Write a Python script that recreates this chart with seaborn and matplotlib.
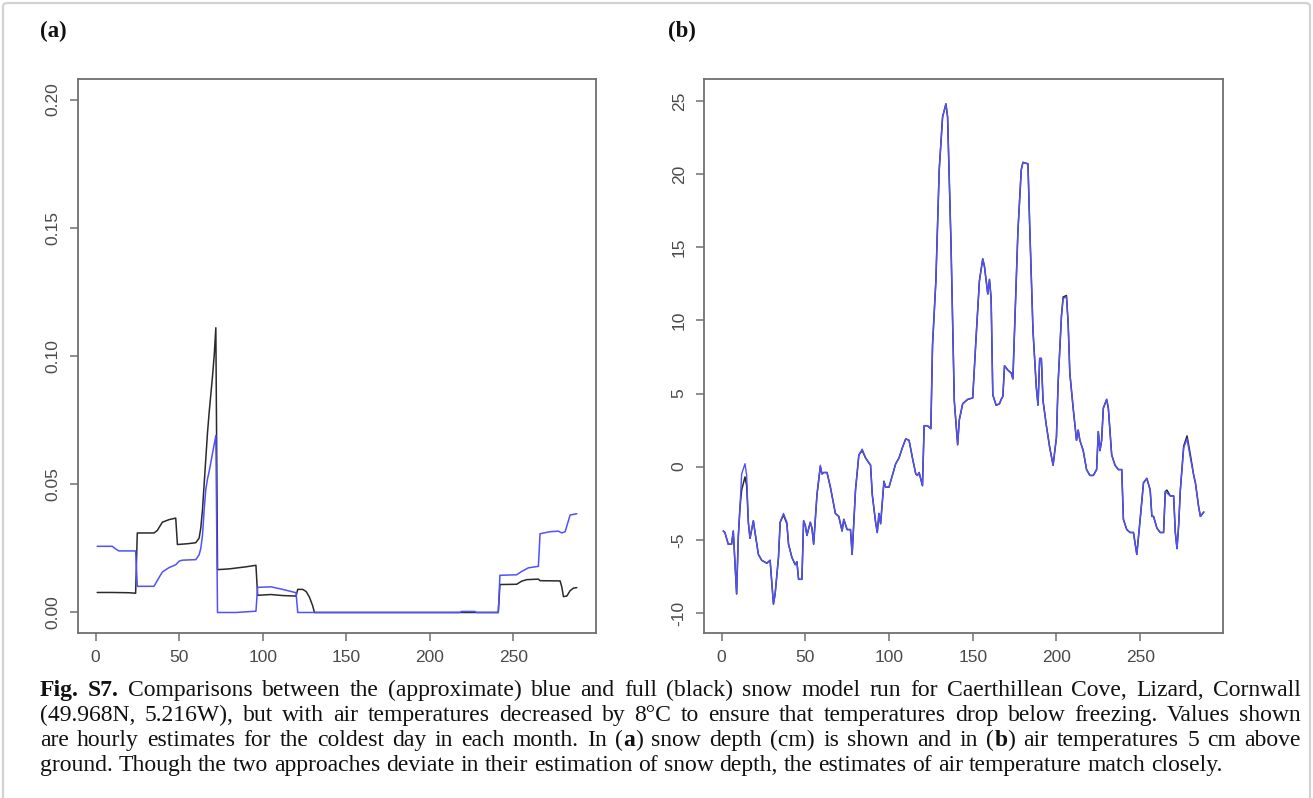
import matplotlib
matplotlib.use("Agg")
import matplotlib.pyplot as plt
from matplotlib.patches import FancyBboxPatch
import seaborn as sns

# ---------------- data ----------------
# (a) snow depth (cm), hourly index 1..288 (coldest day of each month)
hours_full_a = [1, 10, 20, 24, 25, 30, 35, 37, 40, 44, 48, 49, 55, 60, 62, 63, 64, 65, 66, 67,
                68, 70, 71, 72, 73, 80, 90, 96, 97, 105, 112, 120, 121, 124, 126, 128, 130, 131,
                241, 242, 252, 255, 258, 265, 266, 278, 279, 280, 282, 284, 286, 288]
depth_full_a = [0.0078, 0.0078, 0.0077, 0.0075, 0.031, 0.031, 0.031, 0.032, 0.0352, 0.0362,
                0.0368, 0.0265, 0.0268, 0.0272, 0.029, 0.033, 0.040, 0.050, 0.060, 0.070,
                0.078, 0.092, 0.100, 0.111, 0.0167, 0.0170, 0.0178, 0.0184, 0.0067, 0.0070,
                0.0066, 0.0064, 0.0090, 0.0090, 0.0082, 0.0060, 0.0025, 0.0,
                0.0, 0.0109, 0.0110, 0.0122, 0.0128, 0.0130, 0.0124, 0.0123, 0.0100, 0.0062,
                0.0064, 0.0085, 0.0095, 0.0097]

hours_approx_a = [1, 10, 12, 14, 24, 25, 35, 37, 40, 44, 48, 50, 52, 60, 62, 63, 64, 65, 66,
                  67, 68, 70, 72, 73, 84, 96, 97, 105, 112, 120, 121, 218, 219, 227, 228, 241,
                  242, 252, 255, 259, 265, 266, 272, 277, 279, 281, 284, 288]
depth_approx_a = [0.0258, 0.0258, 0.0248, 0.0240, 0.0240, 0.0102, 0.0102, 0.0125, 0.0158,
                  0.0175, 0.0186, 0.0200, 0.0204, 0.0206, 0.0225, 0.0250, 0.030, 0.040, 0.048,
                  0.052, 0.055, 0.062, 0.069, 0.0, 0.0, 0.0005, 0.0098, 0.0100, 0.0090, 0.0077,
                  0.0, 0.0, 0.0004, 0.0004, 0.0, 0.0, 0.0145, 0.0147, 0.0160, 0.0174, 0.0180,
                  0.0307, 0.0315, 0.0317, 0.0310, 0.0315, 0.0380, 0.0385]

# (b) air temperature 5 cm above ground (deg C)
hours_b = [1, 2, 4, 6, 7, 9, 10, 11, 12, 14, 15, 16, 17, 19, 20, 22, 24, 27, 29, 31, 32, 34,
           35, 37, 39, 40, 42, 44, 45, 46, 48, 49, 50, 51, 53, 54, 55, 57, 59, 60, 61, 63, 65,
           68, 70, 72, 73, 75, 77, 78, 80, 82, 84, 86, 89, 90, 92, 93, 94, 95, 97, 98, 100,
           101, 104, 106, 108, 110, 112, 114, 116, 117, 118, 120, 121, 123, 125, 126, 128,
           130, 132, 134, 135, 137, 139, 141, 142, 144, 147, 150, 152, 154, 156, 157, 159,
           160, 161, 162, 164, 166, 167, 168, 169, 171, 173, 174, 175, 177, 179, 180, 183,
           184, 186, 188, 189, 190, 191, 192, 194, 196, 198, 200, 201, 203, 204, 206, 207,
           208, 210, 212, 213, 214, 216, 218, 220, 222, 224, 225, 226, 227, 228, 230, 231,
           233, 235, 237, 239, 240, 242, 244, 246, 248, 250, 252, 254, 256, 257, 258, 260,
           262, 264, 265, 266, 268, 270, 271, 272, 273, 274, 276, 278, 280, 282, 283, 285,
           286, 288]
temp_approx_b = [-4.4, -4.5, -5.3, -5.3, -4.4, -8.7, -4.8, -2.8, -0.5, 0.2, -0.6, -3.8, -4.9,
                 -3.7, -4.5, -6.0, -6.4, -6.6, -6.4, -9.4, -8.7, -6.2, -3.8, -3.2, -3.8, -5.3,
                 -6.2, -6.7, -6.5, -7.7, -7.7, -3.7, -4.0, -4.7, -3.8, -4.2, -5.3, -1.9, 0.1,
                 -0.5, -0.4, -0.4, -1.4, -3.2, -3.4, -4.4, -3.6, -4.3, -4.3, -6.0, -1.6, 0.8,
                 1.2, 0.6, 0.1, -1.9, -3.8, -4.5, -3.2, -3.9, -1.0, -1.4, -1.4, -1.0, 0.2, 0.6,
                 1.3, 1.9, 1.8, 0.6, -0.5, -0.6, -0.4, -1.3, 2.8, 2.8, 2.6, 8.3, 12.7, 20.3,
                 23.9, 24.8, 23.9, 15.4, 4.5, 1.5, 3.2, 4.3, 4.6, 4.7, 8.8, 12.7, 14.2, 13.7,
                 11.8, 12.8, 11.5, 4.9, 4.2, 4.3, 4.6, 4.8, 6.9, 6.6, 6.4, 6.0, 9.3, 16.1, 20.3,
                 20.8, 20.7, 16.6, 9.3, 5.4, 4.2, 7.4, 7.4, 4.5, 2.8, 1.3, 0.1, 2.0, 5.7, 10.3,
                 11.5, 11.6, 9.8, 6.4, 4.0, 1.8, 2.5, 1.8, 1.1, -0.2, -0.6, -0.6, -0.2, 2.4,
                 1.1, 1.8, 4.0, 4.6, 4.0, 0.8, 0.1, -0.2, -0.2, -3.6, -4.3, -4.5, -4.5, -6.0,
                 -3.6, -1.1, -0.8, -1.6, -3.4, -3.4, -4.2, -4.5, -4.5, -1.7, -1.8, -2.0, -2.0,
                 -4.5, -5.6, -4.0, -1.6, 1.3, 1.9, 0.6, -0.6, -1.1, -2.8, -3.4, -3.1]
temp_full_b = [-4.4, -4.5, -5.3, -5.3, -4.4, -8.7, -4.8, -2.8, -1.6, -0.7, -1.3, -3.8, -4.9,
               -3.7, -4.5, -6.0, -6.4, -6.6, -6.4, -9.4, -8.7, -6.2, -3.8, -3.3, -3.9, -5.3,
               -6.2, -6.7, -6.5, -7.7, -7.7, -3.7, -4.0, -4.7, -3.8, -4.2, -5.3, -1.9, 0.0,
               -0.5, -0.4, -0.4, -1.4, -3.2, -3.4, -4.4, -3.6, -4.3, -4.3, -6.0, -1.6, 0.8,
               1.1, 0.6, 0.1, -1.9, -3.8, -4.5, -3.2, -3.9, -1.0, -1.4, -1.4, -1.0, 0.2, 0.6,
               1.3, 1.9, 1.8, 0.6, -0.5, -0.6, -0.4, -1.3, 2.8, 2.8, 2.6, 8.3, 12.7, 20.3,
               23.9, 24.8, 23.9, 15.4, 4.5, 1.5, 3.2, 4.3, 4.6, 4.7, 8.8, 12.7, 14.2, 13.7,
               11.8, 12.8, 11.5, 4.9, 4.2, 4.3, 4.6, 4.8, 6.9, 6.6, 6.4, 6.0, 9.3, 16.1, 20.3,
               20.8, 20.7, 16.6, 9.3, 5.4, 4.2, 7.4, 7.4, 4.5, 2.8, 1.3, 0.1, 2.0, 5.7, 10.3,
               11.6, 11.7, 9.8, 6.4, 4.0, 1.8, 2.5, 1.8, 1.1, -0.2, -0.6, -0.6, -0.2, 2.4,
               1.1, 1.8, 4.0, 4.6, 4.0, 0.8, 0.1, -0.2, -0.2, -3.6, -4.3, -4.5, -4.5, -6.0,
               -3.6, -1.1, -0.8, -1.6, -3.4, -3.4, -4.2, -4.5, -4.5, -1.7, -1.6, -2.0, -2.0,
               -4.5, -5.6, -4.0, -1.6, 1.4, 2.1, 0.8, -0.6, -1.1, -2.8, -3.4, -3.1]

x_ticks = [0, 50, 100, 150, 200, 250]
y_ticks_a = [0.00, 0.05, 0.10, 0.15, 0.20]
y_labels_a = ["0.00", "0.05", "0.10", "0.15", "0.20"]
y_ticks_b = [-10, -5, 0, 5, 10, 15, 20, 25]
y_labels_b = ["-10", "-5", "0", "5", "10", "15", "20", "25"]

caption_line1 = [[("Fig.", "bold")], [("S7.", "bold")]] + [
    [(w, "normal")] for w in ("Comparisons between the (approximate) blue and full (black) "
                              "snow model run for Caerthillean Cove, Lizard, Cornwall").split(" ")]
plain2 = ("(49.968N, 5.216W), but with air temperatures decreased by 8\u00b0C to ensure that "
          "temperatures drop below freezing. Values shown")
plain4 = ("ground. Though the two approaches deviate in their estimation of snow depth, "
          "the estimates of air temperature match closely.")
caption_line2 = [[(w, "normal")] for w in plain2.split(" ")]
caption_line3 = []
for w in "are hourly estimates for the coldest day in each month. In".split(" "):
    caption_line3.append([(w, "normal")])
caption_line3.append([("(", "normal"), ("a", "bold"), (")", "normal")])
for w in "snow depth (cm) is shown and in".split(" "):
    caption_line3.append([(w, "normal")])
caption_line3.append([("(", "normal"), ("b", "bold"), (")", "normal")])
for w in "air temperatures 5 cm above".split(" "):
    caption_line3.append([(w, "normal")])
caption_line4 = [[(w, "normal")] for w in plain4.split(" ")]
caption_lines = [caption_line1, caption_line2, caption_line3, caption_line4]

# ---------------- figure ----------------
sns.set_style("white")
plt.rcParams["font.family"] = ["Liberation Sans Narrow", "Liberation Sans", "DejaVu Sans"]
SERIF = ["Liberation Serif", "DejaVu Serif"]

W, H = 1313, 798
fig = plt.figure(figsize=(W / 100, H / 100), dpi=100)

# light rounded frame around the whole figure
frame = FancyBboxPatch((3 / W, -0.05), (W - 6) / W, 1.05 - 3 / H,
                       boxstyle="round,pad=0,rounding_size=0.004",
                       transform=fig.transFigure, facecolor="none",
                       edgecolor="#d2d2d2", linewidth=1.6)
fig.patches.append(frame)


def axes_px(left, top, right, bottom):
    return fig.add_axes([left / W, 1 - bottom / H, (right - left) / W, (bottom - top) / H])


ax_a = axes_px(78, 79, 596, 633)
ax_b = axes_px(704, 79, 1223, 633)

BLACK = "#2a2a2a"
BLUE = "#5050ff"

sns.lineplot(x=hours_full_a, y=depth_full_a, ax=ax_a, color=BLACK, linewidth=1.1,
             estimator=None, sort=False)
sns.lineplot(x=hours_approx_a, y=depth_approx_a, ax=ax_a, color=BLUE, linewidth=1.1,
             estimator=None, sort=False)
sns.lineplot(x=hours_b, y=temp_full_b, ax=ax_b, color=BLACK, linewidth=1.1,
             estimator=None, sort=False)
sns.lineplot(x=hours_b, y=temp_approx_b, ax=ax_b, color=BLUE, linewidth=1.0,
             estimator=None, sort=False)


def r_style(ax, yticks, ylabels, ylim):
    ax.set_xlim(-10.48, 299.48)
    ax.set_ylim(*ylim)
    ax.set_xticks(x_ticks)
    ax.set_xticklabels([str(t) for t in x_ticks])
    ax.set_yticks(yticks)
    ax.set_yticklabels(ylabels, rotation=90, va="center")
    ax.set_xlabel("")
    ax.set_ylabel("")
    for s in ax.spines.values():
        s.set_visible(True)
        s.set_color("#707070")
        s.set_linewidth(1.3)
    ax.tick_params(bottom=True, left=True, direction="out", length=6, width=1.1,
                   color="#707070", labelsize=12.5, labelcolor="#4a4a4a", pad=6.5)
    ax.set_facecolor("white")


r_style(ax_a, y_ticks_a, y_labels_a, (-0.008, 0.208))
r_style(ax_b, y_ticks_b, y_labels_b, (-11.37, 26.5))

# panel letters
fig.text(40 / W, 1 - 31 / H, "(a)", family=SERIF, weight="bold", fontsize=16.5,
         va="center", ha="left", color="#111111")
fig.text(668 / W, 1 - 31 / H, "(b)", family=SERIF, weight="bold", fontsize=16.5,
         va="center", ha="left", color="#111111")

# caption, justified for all but the last line
FS = 17
renderer = fig.canvas.get_renderer()


def text_width(s, weight):
    t = fig.text(0, 0, s, fontsize=FS, family=SERIF, weight=weight)
    w = t.get_window_extent(renderer).width
    t.remove()
    return w


space_w = text_width("a a", "normal") - text_width("aa", "normal")
x_left, x_right = 40, 1301
baselines = [696, 721, 746, 771]
for li, words in enumerate(caption_lines):
    widths = [sum(text_width(s, wt) for s, wt in word) for word in words]
    if li < len(caption_lines) - 1:
        gap = (x_right - x_left - sum(widths)) / (len(words) - 1)
    else:
        gap = space_w
    x = x_left
    for word, ww in zip(words, widths):
        xs = x
        for s, wt in word:
            fig.text(xs / W, 1 - baselines[li] / H, s, fontsize=FS, family=SERIF,
                     weight=wt, va="baseline", ha="left", color="#111111")
            xs += text_width(s, wt)
        x += ww + gap

fig.savefig("out.png", dpi=100)
